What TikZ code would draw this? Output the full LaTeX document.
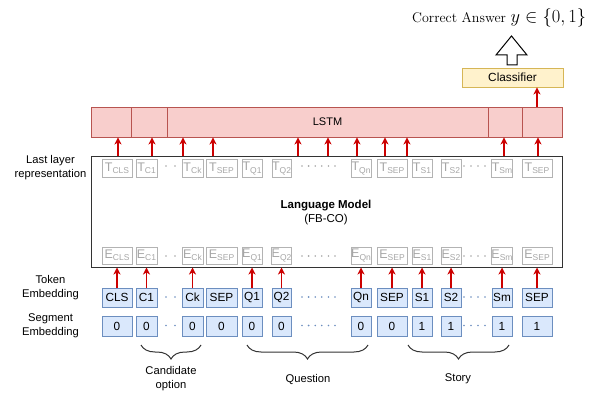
\documentclass[tikz,border=0pt]{standalone}
\usepackage{fix-cm}
\usepackage{fontspec}
\newfontfamily\arial{Liberation Sans}
\usetikzlibrary{arrows.meta,decorations.pathreplacing,calc}
\definecolor{bluef}{HTML}{DAE8FC}
\definecolor{blued}{HTML}{6C8EBF}
\definecolor{redf}{HTML}{F8CECC}
\definecolor{redd}{HTML}{B85450}
\definecolor{yelf}{HTML}{FFF2CC}
\definecolor{yeld}{HTML}{D6B656}
\definecolor{arrred}{HTML}{CC0000}
\definecolor{greyd}{HTML}{B3B3B3}
\definecolor{greyt}{HTML}{A6A6A6}
\definecolor{darkl}{HTML}{333333}
\newcommand\lsub[2]{#1{\fontsize{8.5}{8.5}\selectfont\raisebox{-2.4pt}{#2}}}
\begin{document}
\begin{tikzpicture}[x=1pt,y=-1pt,
 every node/.style={font=\arial},
 tok/.style={draw=blued, fill=bluef, line width=0.9pt, inner sep=0pt, font=\arial\fontsize{11.8}{12}\selectfont},
 ghost/.style={draw=greyd, line width=0.8pt, inner sep=0pt, text=greyt, font=\arial\fontsize{12.5}{12.5}\selectfont},
 lstmbox/.style={draw=redd, fill=redf, line width=0.9pt, inner sep=0pt, minimum height=30pt, font=\arial\fontsize{11}{12}\selectfont},
 arr/.style={draw=arrred, line width=1.2pt, -{Stealth[length=7pt,width=7pt,inset=2pt]}},
 lbl/.style={align=center, font=\arial\fontsize{11.2}{14}\selectfont},
 bracestyle/.style={draw=darkl, line width=1pt, decorate, decoration={brace, mirror, amplitude=14pt}},
]
\useasboundingbox (0,0) rectangle (607,395);

% language model box
\node[draw=darkl, line width=1pt, minimum width=471pt, minimum height=110pt, inner sep=0pt] (lm) at (326.5,212) {};
\node[align=center, font=\arial\fontsize{11.5}{14}\selectfont] (lmlabel) at (326,213) {\textbf{Language Model}\\(FB-CO)};

% LSTM
\node[lstmbox, minimum width=40pt] (lstm1) at (111,122) {};
\node[lstmbox, minimum width=36pt] (lstm2) at (149,122) {};
\node[lstmbox, minimum width=321pt] (lstm3) at (327.5,122) {LSTM};
\node[lstmbox, minimum width=34pt] (lstm4) at (505,122) {};
\node[lstmbox, minimum width=40pt] (lstm5) at (542,122) {};

% classifier
\node[draw=yeld, fill=yelf, line width=0.9pt, minimum width=101pt, minimum height=19pt, inner sep=0pt, font=\arial\fontsize{11.8}{12}\selectfont] (clf) at (512.5,77.5) {Classifier};
\draw[arr] (537,0 |- lstm5.north) -- (537,0 |- clf.south);

% hollow arrow
\draw[black, line width=1pt, fill=white, line join=miter] (507,65) -- (507,55) -- (496,55) -- (511.5,36) -- (527,55) -- (517,55) -- (517,65) -- cycle;

% answer
\node[anchor=base west, inner sep=0pt, font=\rmfamily\fontsize{14}{16}\selectfont] (ans) at (412,23) {Correct Answer {\fontsize{18.5}{20}\selectfont $y\in\{0,1\}$}};

% token columns
\foreach \i/\a/\b/\lab/\seg in {1/102/132/CLS/0, 2/136/157/C1/0, 3/182/203/Ck/0, 4/206/237/SEP/0, 5/242/262/Q1/0, 6/272/291/Q2/0, 7/351/371/Qn/0, 8/377/407/SEP/0, 9/412/432/S1/1, 10/441/461/S2/1, 11/492/512/Sm/1, 12/522/552/SEP/1}{
  \pgfmathsetmacro\cx{(\a+\b)/2}
  \pgfmathsetmacro\w{\b-\a}
  \node[ghost, minimum width=\w pt, minimum height=18pt] (t\i) at (\cx,168.5) {\lsub{T}{\lab}};
  \node[ghost, minimum width=\w pt, minimum height=17pt] (e\i) at (\cx,255.5) {\lsub{E}{\lab}};
  \node[tok, minimum width=\w pt, minimum height=19pt] (k\i) at (\cx,297.5) {\lab};
  \node[tok, minimum width=\w pt, minimum height=20pt] (g\i) at (\cx,326) {\seg};
}

% arrows token -> embedding
\foreach \i in {1,2,3,5,6,7,8,9,10,11,12}
  \draw[arr] (k\i.north) -- (k\i.north |- lm.south);

% arrows LM -> LSTM
\foreach \x in {118,152,183,213,298,328,357,385,407,504,538}
  \draw[arr] (\x,0 |- lm.north) -- (\x,0 |- lstm3.south);

% dots
\foreach \x in {166,175,302,308.6,315.2,321.8,328.4,335,464,471,478,485}{
  \fill[greyt] (\x,166) circle (0.9pt);
  \fill[greyt] (\x,256) circle (0.9pt);
  \fill[blued] (\x,297) circle (0.9pt);
  \fill[blued] (\x,325.5) circle (0.9pt);
}

% braces
\draw[bracestyle] (141,345) -- (201,345);
\draw[bracestyle] (247,345) -- (368,345);
\draw[bracestyle] (408,345) -- (509,345);

% labels
\node[lbl] (cand) at (171,379) {Candidate\\option};
\node[lbl] (ques) at (308,379) {Question};
\node[lbl] (story) at (458,379) {Story};
\node[lbl] (lastl) at (50.5,168) {Last layer\\representation};
\node[lbl] (tokl) at (50.5,288) {Token\\Embedding};
\node[lbl] (segl) at (50.5,326) {Segment\\Embedding};
\end{tikzpicture}
\end{document}
